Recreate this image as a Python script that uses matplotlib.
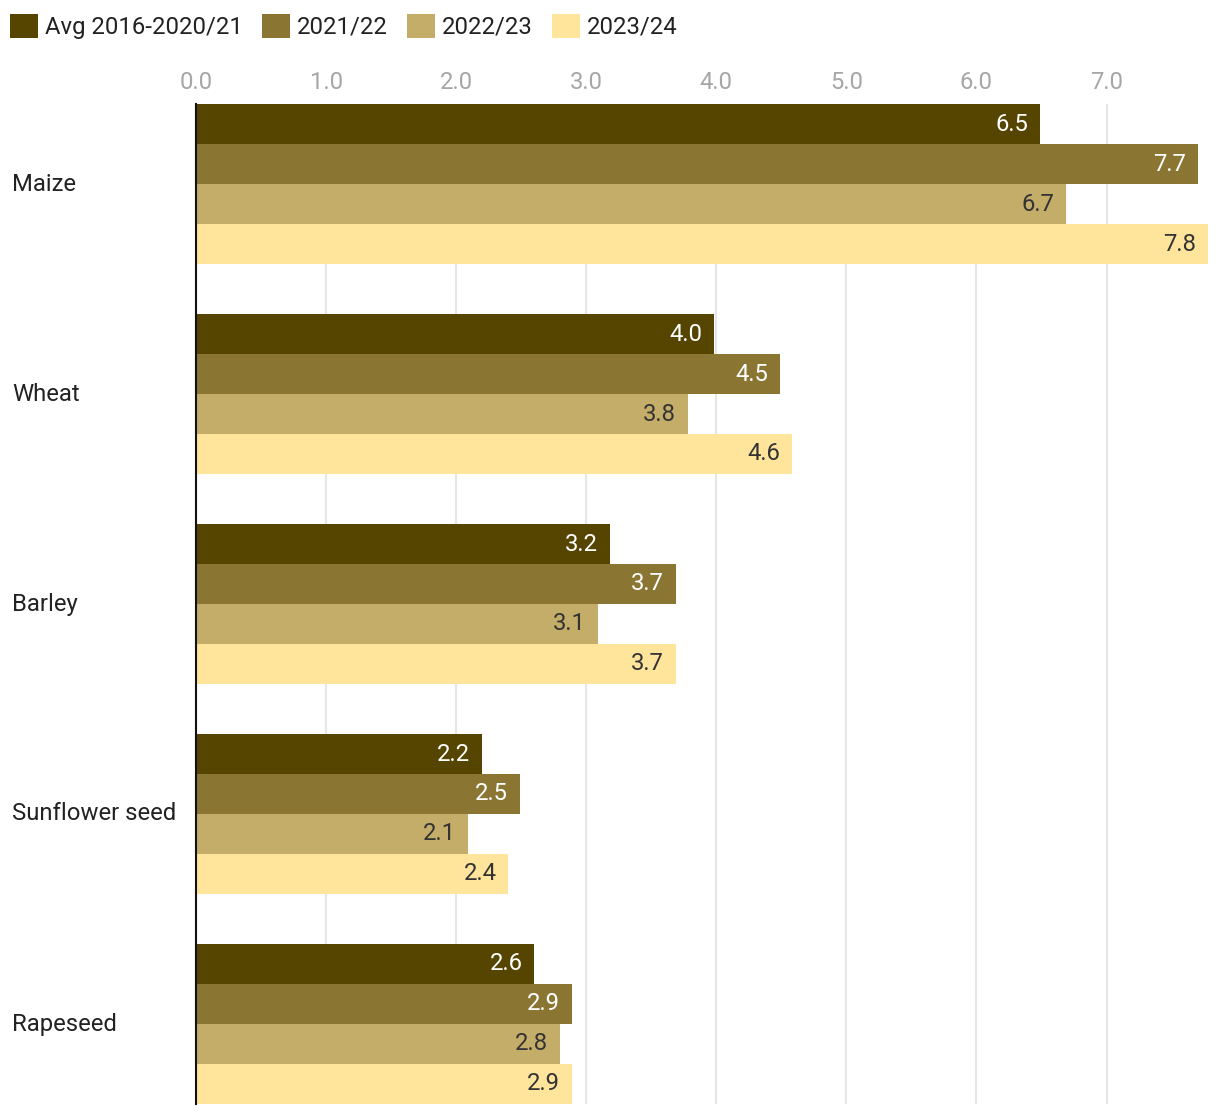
"""Average yields by crop, horizontal grouped bars"""
import matplotlib.pyplot as plt
import numpy as np
from matplotlib.ticker import MultipleLocator
from matplotlib.transforms import blended_transform_factory

plt.rcParams['font.family'] = ['Roboto', 'DejaVu Sans']

crops = ["Maize", "Wheat", "Barley", "Sunflower seed", "Rapeseed"]
series_names = ["Avg 2016-2020/21", "2021/22", "2022/23", "2023/24"]
avg_2016_2021 = [6.49, 3.98, 3.18, 2.2, 2.6]
y_2021_22 = [7.7, 4.49, 3.69, 2.49, 2.89]
y_2022_23 = [6.69, 3.78, 3.09, 2.09, 2.8]
y_2023_24 = [7.78, 4.58, 3.69, 2.4, 2.89]

colors = ["#564500", "#8a7533", "#c4ad68", "#ffe49c"]
label_colors = ["white", "white", "#333333", "#333333"]

series = [avg_2016_2021, y_2021_22, y_2022_23, y_2023_24]
fs = 17.2

fig = plt.figure(figsize=(12.2, 11.16), dpi=100)
W, H = 1220, 1116
ax = fig.add_axes([196 / W, 1 - 1104 / H, (1208 - 196) / W, (1104 - 104) / H])

group_step = 210.0
bar_h = 40.0 / group_step
centers = np.arange(len(crops))
for i, (vals, col, lc) in enumerate(zip(series, colors, label_colors)):
    ypos = centers - 2 * bar_h + (i + 0.5) * bar_h
    bars = ax.barh(ypos, vals, height=bar_h, color=col, label=series_names[i], zorder=2)
    for b, v in zip(bars, vals):
        ax.annotate(f"{v:.1f}", (b.get_width(), b.get_y() + b.get_height() / 2),
                    xytext=(-8.5, 0), textcoords="offset points", ha="right", va="center",
                    color=lc, fontsize=fs, zorder=3)

half = 2 * bar_h
ax.set_ylim(len(crops) - 1 + half, -half)
ax.set_xlim(0, max(y_2023_24))
ax.set_yticks(centers)
ax.set_yticklabels([])
ax.tick_params(axis="y", length=0)
trans = blended_transform_factory(fig.transFigure, ax.transData)
for c, name in zip(centers, crops):
    ax.text(12 / W, c, name, transform=trans, ha="left", va="center",
            fontsize=fs, color="#222222")

ax.xaxis.tick_top()
ax.set_xticks(np.arange(0, 8, 1))
ax.set_xticklabels([f"{t:.1f}" for t in range(8)], fontsize=fs, color="#a6a6a6")
ax.tick_params(axis="x", length=0, pad=7.5)
ax.xaxis.set_minor_locator(MultipleLocator(1))
ax.grid(axis="x", which="major", color="#e6e6e6", linewidth=1.5, zorder=0)
ax.set_axisbelow(True)

for side in ["top", "right", "bottom"]:
    ax.spines[side].set_visible(False)
ax.spines["left"].set_color("#111111")
ax.spines["left"].set_linewidth(1.5)
ax.spines["left"].set_zorder(4)

fig.legend(loc="upper left", bbox_to_anchor=(0 / W, 1 - 4 / H), ncol=4, frameon=False,
           fontsize=fs, handlelength=1.17, handleheight=1.17, handletextpad=0.3,
           columnspacing=0.8, borderaxespad=0, labelcolor="#222222")

plt.savefig("out.png", format="png")
plt.close()
